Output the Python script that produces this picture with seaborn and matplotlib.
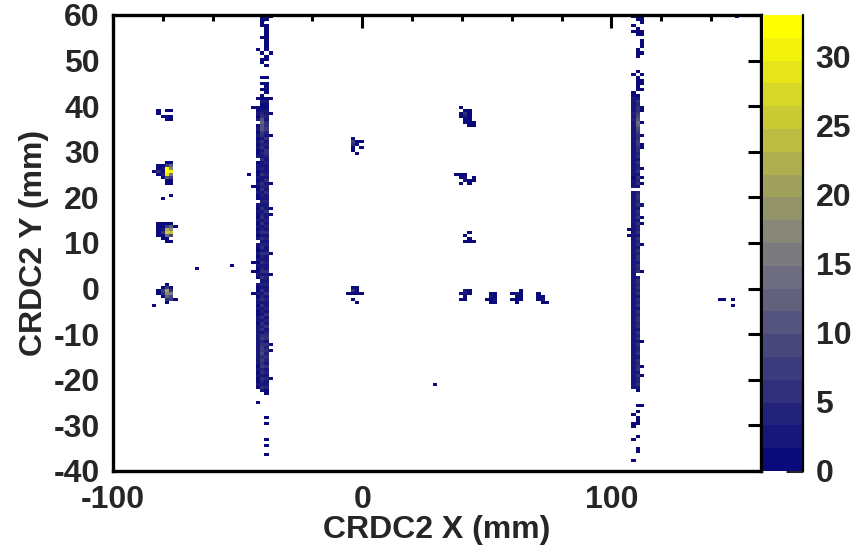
import numpy as np
import pandas as pd
import matplotlib
matplotlib.use("Agg")
import matplotlib.pyplot as plt
from matplotlib.colors import LinearSegmentedColormap, ListedColormap
from matplotlib.ticker import MultipleLocator
import seaborn as sns

# ---------------------------------------------------------------- histogram frame
X_RANGE = (-100.0, 160.0)
Y_RANGE = (-40.0, 60.0)
N_BINS = 150
COUNT_MAX = 33
N_LEVELS = 20
CBAR_TICKS = [0, 5, 10, 15, 20, 25, 30]

# bin contents are written one character per bin:
# '.' = 0, '1'..'9', then 'a' = 10 ... 'x' = 33
CODE = ".123456789abcdefghijklmnopqrstuvwx"

# ---------------------------------------------------------------- wire strips
# each string is one x column, read from the top row (y = 60) downwards
LEFT_STRIP_X = [-41.93, -40.20, -38.47]
LEFT_STRIP = [
    ".........." ".1........" ".......1.." "11212.1212" "1212112.12"
    "2112121121" "1.21211212" "1212.21121" "2121121.21" "1212212112"
    "2123232323" "3232312121" "121....1.." ".........." "..........",

    "1111...1.." "..1.11...." "1.1.1.1121" "1246bcab75" "3546243532"
    "4353264534" "3425346352" "4635245364" "3524635243" "5346253425"
    "3546357468" "7968574635" "4352......" ".........." "..........",

    "11.1111111" "11.11.1..." "1.1111.121" "1234356743" "5243654342"
    "3242534253" "2423532424" "3524243253" "2432524342" "3524234253"
    "4352465354" "5464353424" "32411....." "..1.1....1" ".1..1.....",
]

RIGHT_STRIP_X = [108.87, 110.60, 112.33]
RIGHT_STRIP = [
    "1..1.1...." ".........1" ".....11232" "3243432323" "2322323232"
    "3231232.23" "2323232322" "3232322323" "2322323232" "3232232323"
    "2323323232" "3232323232" "232......." ".1..11...1" "......1...",

    "11..111..." ".111....1." "11111.1354" "5679bed975" "6875646354"
    "4536453.45" "5463545364" "4536453546" "53645.3546" "4536453645"
    "5463546354" "4536456354" "4531....1." "1.111...1." "..11......",

    "111..11.11" "1.1......1" ".11.1....." "11...1...1" "..11......"
    "1..1.1...." "..2...1.1." ".....1...." "....1....." ".........."
    ".......1.." ".....1..1." "........1." ".........." "..........",
]

# ---------------------------------------------------------------- beam spots
# (x, y) of the upper-left bin centre, then rows of bin contents
SPOT_X = [-81.80, -83.53, -81.80, -83.53, -3.80, -5.53,
          39.53, 37.80, 41.27, 39.53, 49.93, 60.33, 70.73]
SPOT_Y = [39.00, 27.67, 14.33, 1.00, 33.00, 0.33,
          39.67, 25.00, 12.33, -0.33, -1.00, -0.33, -1.00]
SPOT_ROWS = [
    ["1.11", "1...", ".111", "..11"],
    ["...11", ".118d", ".13xi", "151wu", ".14tf", "..1a8", "...11", "...11"],
    ["1111.", "118c1", "12mh.", "15qo.", "11e9.", ".11..", "..11."],
    ["...1..", "..181.", ".18k6.", ".15ig.", "..1d9.", "...571", "...1..", "1....."],
    ["1..", "711", "51.", "1.1", "1..", ".1."],
    [".11.", ".51.", "1111", "....", ".1..", "..1."],
    ["1...", ".11.", "161.", "131.", ".11.", ".111", "..11"],
    ["111..", ".13.1", "..211", ".1.1."],
    [".1.", "1..", ".1.", "111"],
    [".31", "131", ".1.", "11."],
    [".11", ".21", "112", ".11"],
    ["..1", "121", ".11", "111", ".1."],
    ["1..", "11.", "12.", ".11"],
]

# ---------------------------------------------------------------- single hits
SINGLE_X = [-45.40, -43.67, -43.67, -43.67, -43.67, -43.67,
            -36.73, -36.73, -36.73, -36.73, -36.73, -36.73, -36.73,
            -36.73, -36.73, -36.73, -36.73, -36.73, -36.73,
            107.13, 107.13, -80.07, -76.60, -66.20, -52.33, 29.13,
            143.53, 145.27, 148.73, 148.73, 150.47]
SINGLE_Y = [25.00, 39.67, 22.33, 5.67, 3.67, -1.00,
            59.67, 51.67, 41.67, 38.33, 33.67, 23.00, 17.67,
            16.33, 7.67, 3.00, -12.33, -13.67, -19.67,
            13.00, 11.67, 19.67, 20.33, 4.33, 5.00, -21.00,
            -2.33, -2.33, -2.33, -3.67, 59.67]

# ---------------------------------------------------------------- build the hit table
dx = (X_RANGE[1] - X_RANGE[0]) / N_BINS
dy = (Y_RANGE[1] - Y_RANGE[0]) / N_BINS
y_top = Y_RANGE[1] - dy / 2

hx, hy, hw = [], [], []


def add_grid(x0, y0, rows):
    for i, row in enumerate(rows):
        for j, ch in enumerate(row):
            n = CODE.index(ch)
            if n:
                hx.append(x0 + j * dx)
                hy.append(y0 - i * dy)
                hw.append(n)


for xs, cols in ((LEFT_STRIP_X, LEFT_STRIP), (RIGHT_STRIP_X, RIGHT_STRIP)):
    for xc, col in zip(xs, cols):
        add_grid(xc, y_top, [[c] for c in col])

for x0, y0, rows in zip(SPOT_X, SPOT_Y, SPOT_ROWS):
    add_grid(x0, y0, rows)

for xs_, ys_ in zip(SINGLE_X, SINGLE_Y):
    hx.append(xs_)
    hy.append(ys_)
    hw.append(1)

hits = pd.DataFrame({"x": hx, "y": hy, "w": hw})

# ---------------------------------------------------------------- palette
ramp = LinearSegmentedColormap.from_list(
    "blue_yellow",
    [(0.0, (0.04, 0.04, 0.48)), (0.5, (0.50, 0.50, 0.50)), (1.0, (1.0, 1.0, 0.0))],
)
cmap = ListedColormap([ramp(i / (N_LEVELS - 1)) for i in range(N_LEVELS)])

# ---------------------------------------------------------------- figure
sns.set_style("white")
plt.rcParams["font.family"] = ["Liberation Sans", "DejaVu Sans"]
plt.rcParams["font.weight"] = "bold"
plt.rcParams["axes.unicode_minus"] = False

W, H = 860, 554
fig = plt.figure(figsize=(W / 100, H / 100), dpi=100)
ax = fig.add_axes([113 / W, 1 - 471 / H, (761 - 113) / W, (471 - 15) / H])
cax = fig.add_axes([763 / W, 1 - 471 / H, 40 / W, (471 - 15) / H])

sns.histplot(
    data=hits, x="x", y="y", weights="w",
    bins=(N_BINS, N_BINS), binrange=(X_RANGE, Y_RANGE),
    cmap=cmap, vmin=0, vmax=COUNT_MAX,
    cbar=True, cbar_ax=cax, ax=ax,
)

ax.set_xlim(*X_RANGE)
ax.set_ylim(*Y_RANGE)
ax.set_xlabel("CRDC2 X (mm)", fontsize=23, fontweight="bold", labelpad=0)
ax.set_ylabel("CRDC2 Y (mm)", fontsize=23, fontweight="bold", labelpad=3)

ax.xaxis.set_major_locator(MultipleLocator(100))
ax.xaxis.set_minor_locator(MultipleLocator(20))
ax.yaxis.set_major_locator(MultipleLocator(10))
ax.tick_params(which="both", direction="in", top=True, right=True,
               width=2.2, color="black")
ax.tick_params(which="major", length=9.5, labelsize=23)
ax.tick_params(which="minor", length=4.5)
ax.tick_params(axis="x", which="major", pad=10)
ax.tick_params(axis="y", which="major", pad=9.5)
for lab in ax.get_xticklabels() + ax.get_yticklabels():
    lab.set_fontweight("bold")
for sp in ax.spines.values():
    sp.set_linewidth(2.4)
    sp.set_color("black")

cbar = ax.collections[0].colorbar
cbar.set_ticks(CBAR_TICKS)
cbar.outline.set_visible(False)
cbar.ax.tick_params(direction="in", length=12, width=2.2, labelsize=23, pad=9)
for lab in cbar.ax.get_yticklabels():
    lab.set_fontweight("bold")
cbar.ax.plot([1, 1], [0, 1], transform=cbar.ax.transAxes, color="black",
             lw=1.6, clip_on=False)

fig.savefig("out.png", dpi=100, facecolor="white")
